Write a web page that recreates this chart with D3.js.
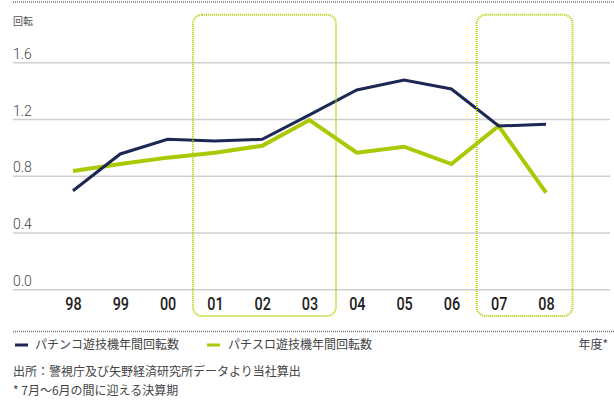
<!DOCTYPE html>
<html>
<head>
<meta charset="utf-8">
<script src="https://cdn.jsdelivr.net/npm/d3@7"></script>
<style>
  body { margin: 0; background: #fff; }
  svg { display: block; }
</style>
</head>
<body>
<svg id="chart" width="614" height="402"></svg>
<script>
// fiscal years (July - June)
const years = ['98', '99', '00', '01', '02', '03', '04', '05', '06', '07', '08'];
// annual turnover of pachinko machines
const pachinko = [0.695, 0.954, 1.057, 1.045, 1.057, 1.229, 1.405, 1.475, 1.412, 1.151, 1.163];
// annual turnover of pachislot machines
const pachislot = [0.834, 0.883, 0.928, 0.963, 1.012, 1.193, 0.963, 1.005, 0.883, 1.151, 0.681];
const yTicks = [0.0, 0.4, 0.8, 1.2, 1.6];
// highlighted periods
const boxes = [['01', '03'], ['07', '08']];
const seriesNames = ['パチンコ遊技機年間回転数', 'パチスロ遊技機年間回転数'];

const navy = '#1c2753', lime = '#a9c903';
const jp = '"Noto Sans CJK JP", "Noto Sans", sans-serif';

let svg = d3.select('#chart');

let x = d3.scalePoint().domain(years).range([73, 546]);
let y = d3.scaleLinear().domain([0, 1.6]).range([289.3, 62.3]);

// dotted rules top and bottom
[2, 331.5].forEach(function (yy) {
    svg.append('line')
        .attr('x1', 13).attr('x2', 614)
        .attr('y1', yy).attr('y2', yy)
        .attr('stroke', '#777')
        .attr('stroke-width', 1.5)
        .attr('stroke-dasharray', '1,1');
});

// unit label
svg.append('text')
    .attr('x', 13).attr('y', 25)
    .style('font-family', jp)
    .style('font-size', '10px')
    .style('fill', '#555')
    .text('回転');

// y axis as gridlines with labels sitting on top
let yAxis = svg.append('g')
    .attr('transform', 'translate(13,0)')
    .call(d3.axisLeft(y).tickValues(yTicks).tickSize(-597).tickFormat(d3.format('.1f')));
yAxis.select('.domain').remove();
yAxis.selectAll('.tick line').attr('stroke', '#cfcfcf').attr('stroke-width', 1.5);
yAxis.selectAll('.tick text')
    .attr('x', 0).attr('dy', -4)
    .attr('text-anchor', 'start')
    .style('font-family', 'Roboto, "Liberation Sans", sans-serif')
    .style('font-weight', 300)
    .style('font-size', '14px')
    .style('fill', '#444');

// x axis labels (condensed look)
let xAxis = svg.append('g')
    .attr('transform', 'translate(0,290)')
    .call(d3.axisBottom(x).tickSize(0));
xAxis.select('.domain').remove();
xAxis.selectAll('.tick text')
    .attr('y', 0).attr('dy', 20)
    .attr('transform', 'scale(0.8,1)')
    .style('font-family', 'Roboto, sans-serif')
    .style('font-weight', 500)
    .style('font-size', '18px')
    .style('fill', '#222');

// lines
let line = d3.line()
    .x(function (d, i) { return x(years[i]); })
    .y(function (d) { return y(d); });

svg.append('path')
    .datum(pachislot)
    .attr('d', line)
    .attr('fill', 'none')
    .attr('stroke', lime)
    .attr('stroke-width', 4);

svg.append('path')
    .datum(pachinko)
    .attr('d', line)
    .attr('fill', 'none')
    .attr('stroke', navy)
    .attr('stroke-width', 3);

// dotted rounded boxes
boxes.forEach(function (b) {
    let x0 = x(b[0]) - 22, x1 = x(b[1]) + 26.5;
    svg.append('rect')
        .attr('x', x0).attr('y', 14.7)
        .attr('width', x1 - x0).attr('height', 316 - 14.7)
        .attr('rx', 9).attr('ry', 9)
        .attr('fill', 'none')
        .attr('stroke', '#afd000')
        .attr('stroke-width', 2)
        .attr('stroke-dasharray', '1,1');
});

// legend
let legend = [[15, 35, navy], [207, 228, lime]];
legend.forEach(function (l, i) {
    svg.append('line')
        .attr('x1', l[0]).attr('x2', l[0] + 13)
        .attr('y1', 345).attr('y2', 345)
        .attr('stroke', l[2])
        .attr('stroke-width', 3);
    svg.append('text')
        .attr('x', l[1]).attr('y', 345).attr('dy', '0.35em')
        .style('font-family', jp)
        .style('font-size', '12px')
        .style('fill', '#444')
        .text(seriesNames[i]);
});

svg.append('text')
    .attr('x', 608).attr('y', 345).attr('dy', '0.35em')
    .attr('text-anchor', 'end')
    .style('font-family', jp)
    .style('font-size', '12px')
    .style('fill', '#444')
    .text('年度*');

// notes
let notes = ['出所：警視庁及び矢野経済研究所データより当社算出', '* 7月〜6月の間に迎える決算期'];
notes.forEach(function (n, i) {
    svg.append('text')
        .attr('x', 13).attr('y', 372 + i * 19).attr('dy', '0.35em')
        .style('font-family', jp)
        .style('font-size', '12px')
        .style('fill', '#444')
        .text(n);
});
</script>
</body>
</html>
